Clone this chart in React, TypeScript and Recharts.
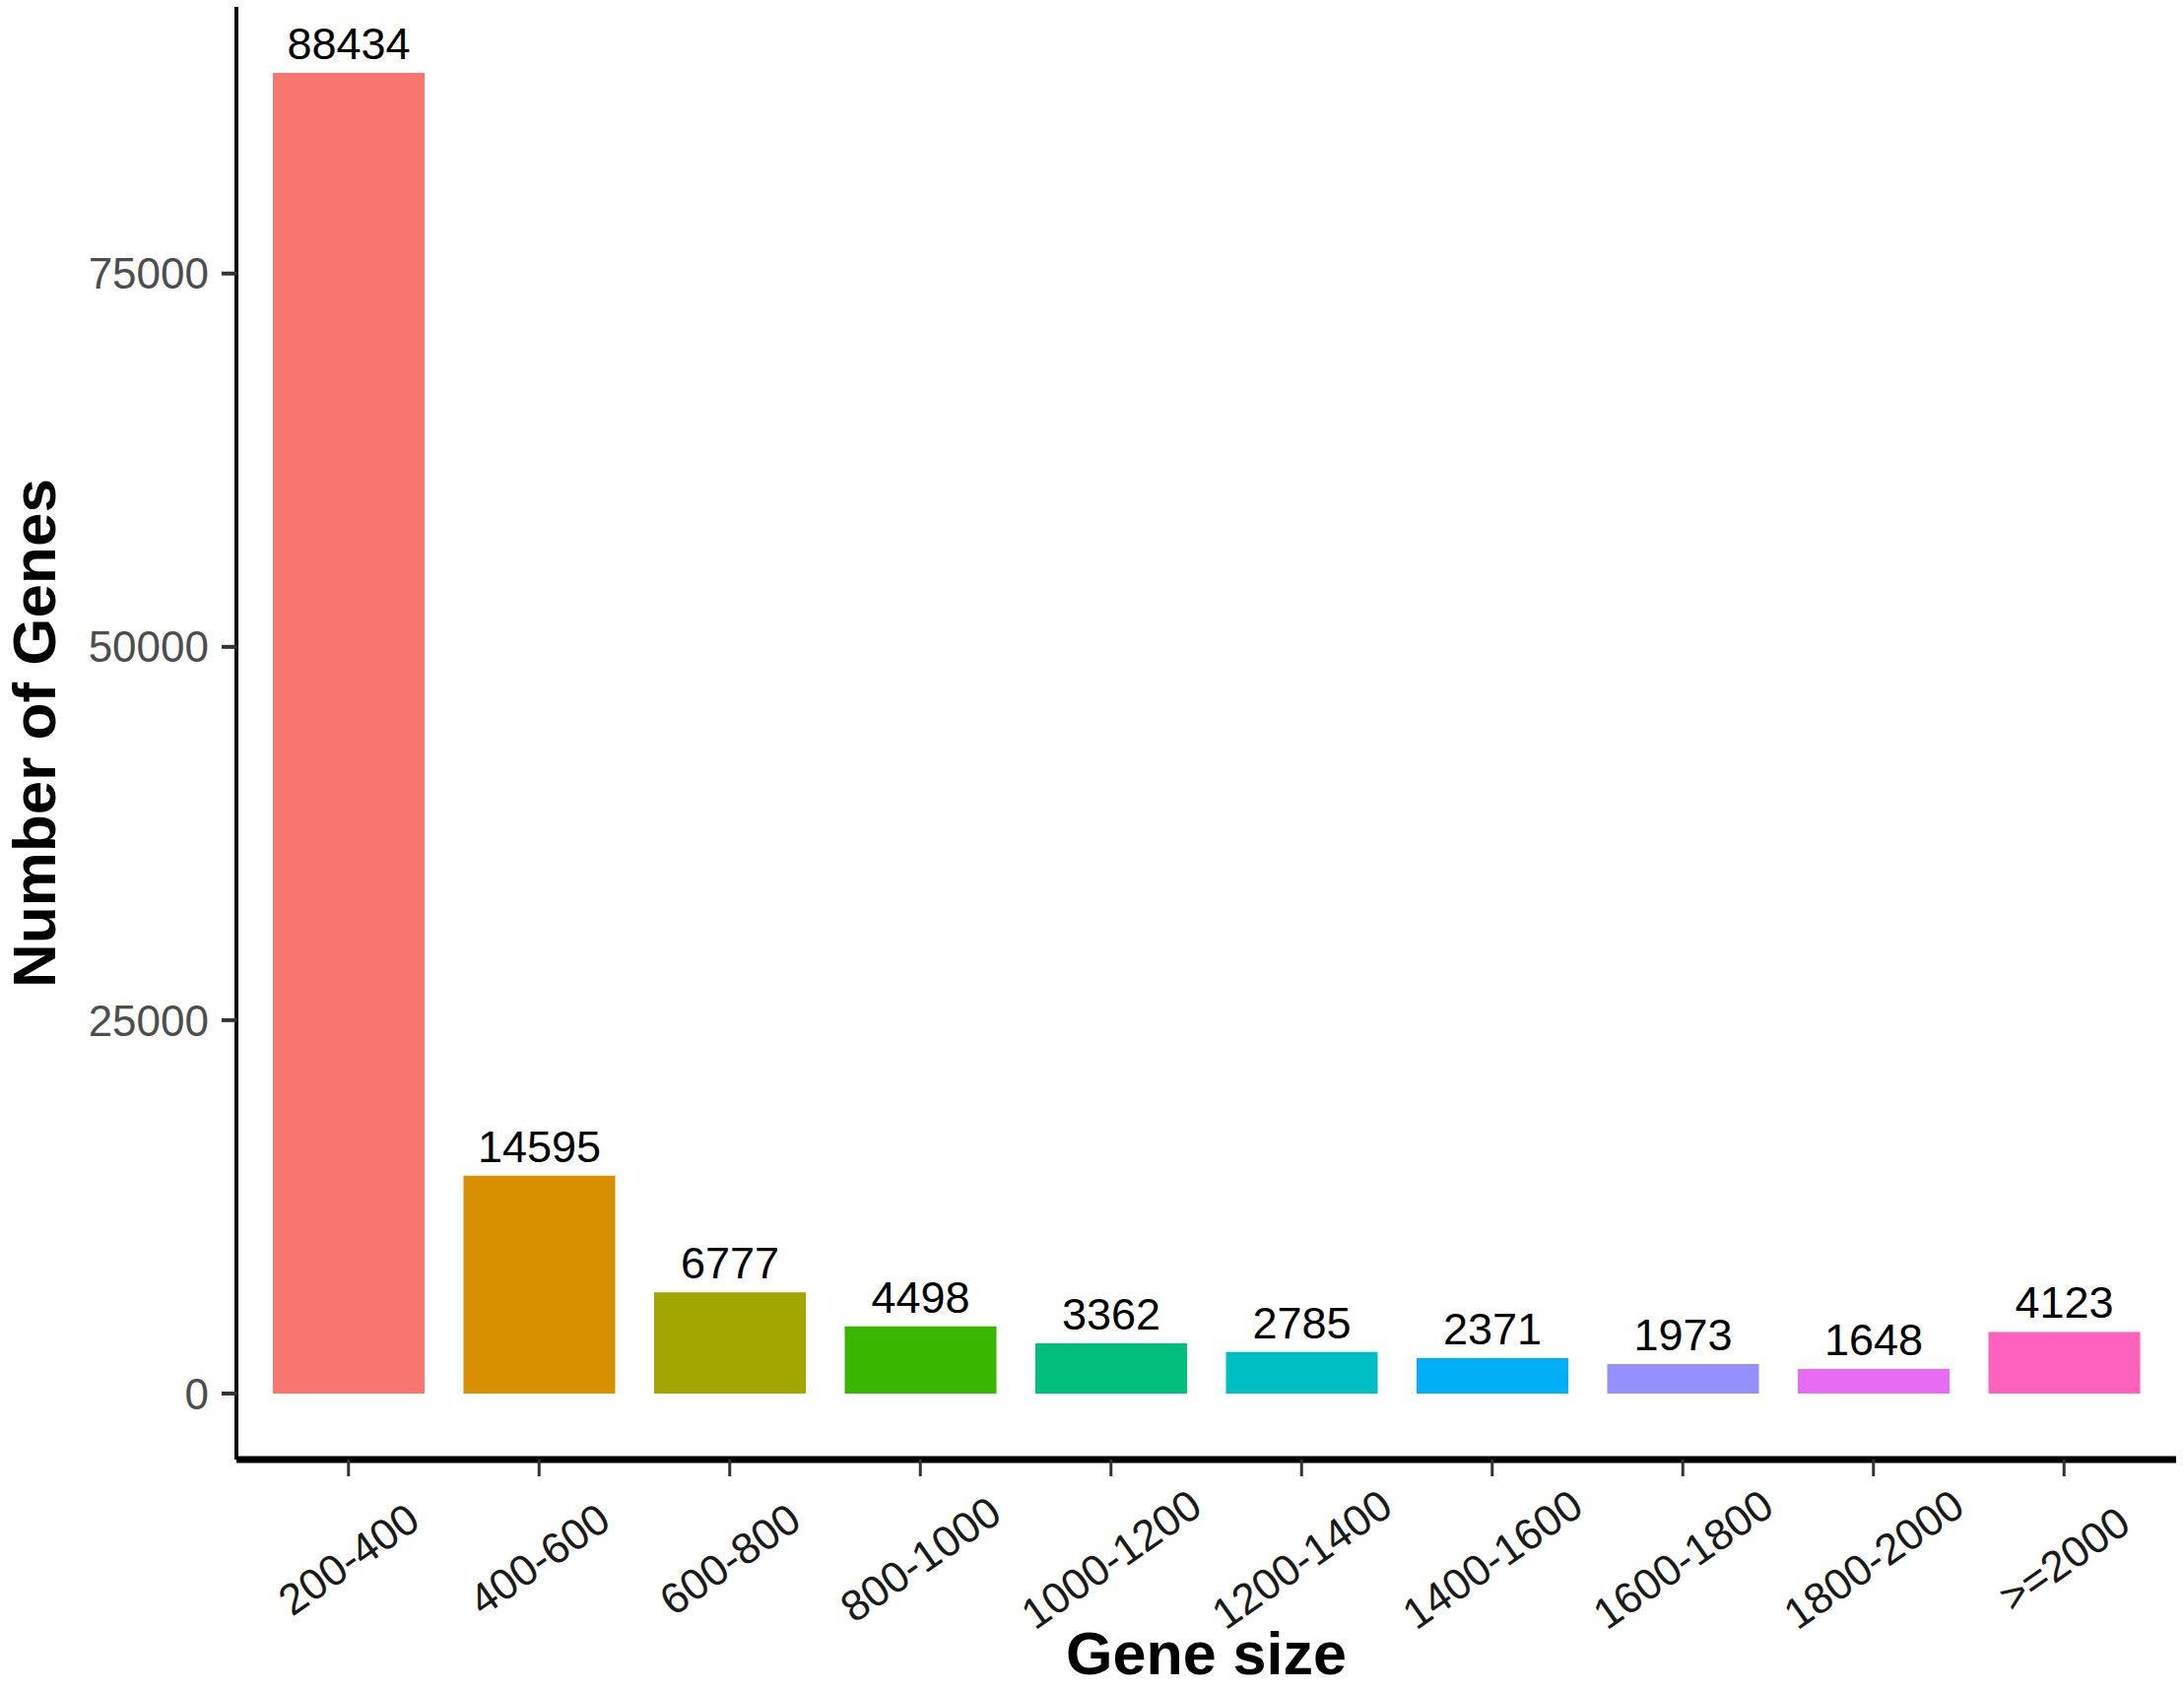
import { BarChart, Bar, XAxis, YAxis, Cell, LabelList, Label } from "recharts";

const sizes = [
  "200-400",
  "400-600",
  "600-800",
  "800-1000",
  "1000-1200",
  "1200-1400",
  "1400-1600",
  "1600-1800",
  "1800-2000",
  ">=2000",
];

const counts = [88434, 14595, 6777, 4498, 3362, 2785, 2371, 1973, 1648, 4123];

const colors = [
  "#F8766D",
  "#D89000",
  "#A3A500",
  "#39B600",
  "#00BF7D",
  "#00BFC4",
  "#00B0F6",
  "#9590FF",
  "#E76BF3",
  "#FF62BC",
];

const yTicks = [0, 25000, 50000, 75000];

const data = sizes.map((size, i) => ({ size, count: counts[i], color: colors[i] }));

const FONT = "'Liberation Sans', Arial, Helvetica, sans-serif";

type TickProps = {
  x?: number;
  y?: number;
  payload?: { value: string };
};

function SizeTick({ x, y, payload }: TickProps) {
  if (x == null || y == null || !payload) return null;
  const cy = y + 82;
  return (
    <text
      x={x}
      y={cy}
      textAnchor="middle"
      dominantBaseline="central"
      fontSize={44}
      fontFamily={FONT}
      fill="#1a1a1a"
      transform={`rotate(-35, ${x}, ${cy})`}
    >
      {payload.value}
    </text>
  );
}

type ValueLabelProps = {
  x?: number;
  y?: number;
  width?: number;
  value?: number | string;
};

function ValueLabel({ x, y, width, value }: ValueLabelProps) {
  if (x == null || y == null || width == null || value == null) return null;
  return (
    <text
      x={x + width / 2}
      y={y - 14}
      textAnchor="middle"
      fontSize={45}
      fontFamily={FONT}
      fill="#000"
    >
      {value}
    </text>
  );
}

type ViewBox = { x: number; y: number; width: number; height: number };

function YTitle({ viewBox }: { viewBox?: ViewBox }) {
  if (!viewBox) return null;
  const cx = 56;
  const cy = viewBox.y + viewBox.height / 2;
  return (
    <text
      x={cx}
      y={cy}
      textAnchor="middle"
      fontSize={62}
      fontWeight="bold"
      fontFamily={FONT}
      fill="#000"
      transform={`rotate(-90, ${cx}, ${cy})`}
    >
      Number of Genes
    </text>
  );
}

function XTitle({ viewBox }: { viewBox?: ViewBox }) {
  if (!viewBox) return null;
  return (
    <text
      x={viewBox.x + viewBox.width / 2}
      y={1700}
      textAnchor="middle"
      fontSize={61}
      fontWeight="bold"
      fontFamily={FONT}
      fill="#000"
    >
      Gene size
    </text>
  );
}

export default function App() {
  return (
    <div style={{ position: "absolute", left: 0, top: 0, background: "#fff" }}>
      <BarChart
        width={2217}
        height={1716}
        data={data}
        margin={{ top: 7, right: 8, left: 0, bottom: 0 }}
      >
        <XAxis
          dataKey="size"
          type="category"
          interval={0}
          height={234}
          padding={{ left: 17, right: 17 }}
          tickSize={17}
          tickLine={{ stroke: "#333", strokeWidth: 3 }}
          axisLine={{ stroke: "#000", strokeWidth: 7 }}
          tick={<SizeTick />}
        >
          <Label content={<XTitle />} />
        </XAxis>
        <YAxis
          type="number"
          width={240}
          domain={[-4422, 92856]}
          allowDataOverflow
          ticks={yTicks}
          tickSize={15}
          tickMargin={13}
          tickLine={{ stroke: "#333", strokeWidth: 4 }}
          axisLine={{ stroke: "#000", strokeWidth: 4 }}
          tick={{ fill: "#4d4d4d", fontSize: 44, fontFamily: FONT }}
        >
          <Label content={<YTitle />} />
        </YAxis>
        <Bar dataKey="count" barSize={154} isAnimationActive={false}>
          {data.map((d, i) => (
            <Cell key={`bar-${i}`} fill={d.color} />
          ))}
          <LabelList dataKey="count" content={<ValueLabel />} />
        </Bar>
      </BarChart>
    </div>
  );
}
